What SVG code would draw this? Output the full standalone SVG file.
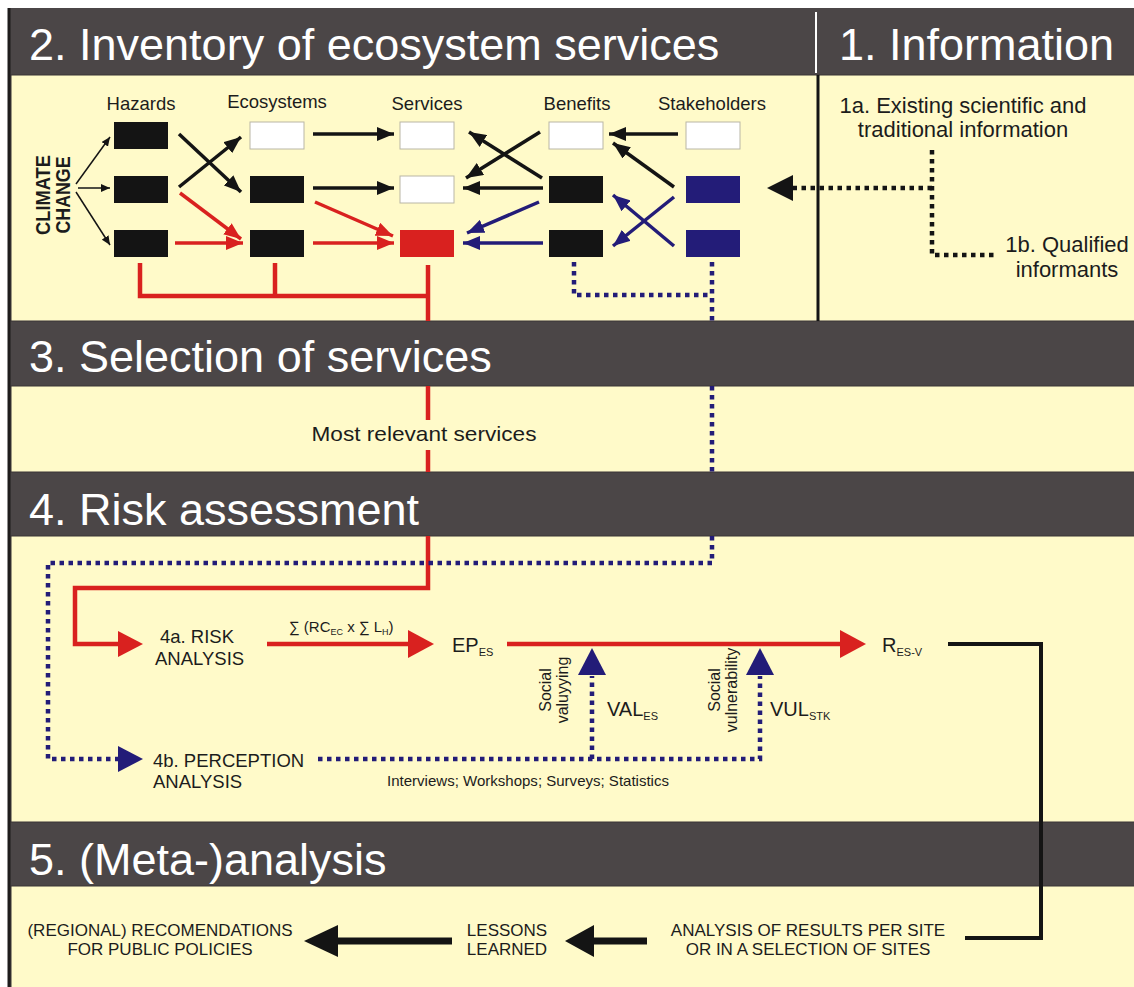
<svg xmlns="http://www.w3.org/2000/svg" width="1134" height="987" viewBox="0 0 1134 987">
<defs>
<style>
text{font-family:"Liberation Sans",Arial,sans-serif;fill:#1c1c1c}
.title{font-size:45px;fill:#ffffff}
.col{font-size:18.5px;text-anchor:middle}
.info{font-size:22px;text-anchor:middle}
.mid{font-size:18.5px}
.cc{font-size:20px;font-weight:bold;text-anchor:middle}
.rot{font-size:16px;text-anchor:middle}
.big{font-size:20px}
.sub{font-size:11px}
.s5{font-size:17px;text-anchor:middle}
.panel{fill:#fffac9;stroke:#3a3536;stroke-width:1}
.bk{fill:#141414}
.wh{fill:#ffffff;stroke:#b9b6a6;stroke-width:1}
.rd{fill:#d9211f}
.nv{fill:#231c78}
.lb{stroke:#141414;stroke-width:3.5;fill:none}
.lr{stroke:#d9211f;stroke-width:3.5;fill:none}
.ln{stroke:#231c78;stroke-width:3.5;fill:none}
.thin{stroke:#141414;stroke-width:1.5;fill:none}
.dn{stroke:#231c78;stroke-width:4.5;stroke-dasharray:4.5 4.5;fill:none}
.db{stroke:#141414;stroke-width:4.5;stroke-dasharray:4.5 4.5;fill:none}
.fr{stroke:#d9211f;stroke-width:4.5;fill:none}
.fk{stroke:#141414;stroke-width:4;fill:none}
.fk2{stroke:#141414;stroke-width:7;fill:none}
</style>
<marker id="mb" markerUnits="userSpaceOnUse" markerWidth="17" markerHeight="14" refX="17" refY="7" orient="auto"><path d="M0,0 L17,7 L0,14 z" fill="#141414"/></marker>
<marker id="mr" markerUnits="userSpaceOnUse" markerWidth="17" markerHeight="14" refX="17" refY="7" orient="auto"><path d="M0,0 L17,7 L0,14 z" fill="#d9211f"/></marker>
<marker id="mn" markerUnits="userSpaceOnUse" markerWidth="17" markerHeight="14" refX="17" refY="7" orient="auto"><path d="M0,0 L17,7 L0,14 z" fill="#231c78"/></marker>
<marker id="ms" markerUnits="userSpaceOnUse" markerWidth="9" markerHeight="8" refX="9" refY="4" orient="auto"><path d="M0,0 L9,4 L0,8 z" fill="#141414"/></marker>
</defs>

<!-- background frame -->
<rect x="0" y="0" width="1134" height="987" fill="#ffffff"/>
<rect x="8" y="8" width="1126" height="979" fill="#4b4647"/>
<rect class="panel" x="11" y="75" width="1124" height="246"/>
<rect class="panel" x="11" y="386" width="1124" height="86"/>
<rect class="panel" x="11" y="536" width="1124" height="286"/>
<rect class="panel" x="11" y="886" width="1124" height="102"/>
<rect x="7.5" y="8" width="3" height="979" fill="#1e1c1c"/>
<rect x="816.5" y="75" width="3" height="246" fill="#141414"/>
<rect x="815" y="12" width="2" height="61" fill="#ffffff"/>

<!-- headers -->
<g id="h2"><text class="title" x="29" y="60">2. Inventory of ecosystem services</text></g>
<g id="h1"><text class="title" x="839" y="60">1. Information</text></g>
<g id="h3"><text class="title" x="29" y="372">3. Selection of services</text></g>
<g id="h4"><text class="title" x="29" y="525">4. Risk assessment</text></g>
<g id="h5"><text class="title" x="29" y="875">5. (Meta-)analysis</text></g>

<!-- column labels -->
<g id="labels">
<text class="col" x="141" y="110">Hazards</text>
<text class="col" x="277" y="108">Ecosystems</text>
<text class="col" x="427" y="110">Services</text>
<text class="col" x="577" y="110">Benefits</text>
<text class="col" x="712" y="110">Stakeholders</text>
</g>

<g id="climate-change">
<text class="cc" transform="rotate(-90)" x="-195" y="50" textLength="80" lengthAdjust="spacingAndGlyphs">CLIMATE</text>
<text class="cc" transform="rotate(-90)" x="-195" y="70" textLength="77" lengthAdjust="spacingAndGlyphs">CHANGE</text>
</g>

<g id="hazards">
<rect class="bk" x="114" y="122" width="54" height="27"/>
<rect class="bk" x="114" y="176" width="54" height="27"/>
<rect class="bk" x="114" y="230" width="54" height="27"/>
</g>
<g id="ecosystems">
<rect class="wh" x="250" y="122" width="54" height="27"/>
<rect class="bk" x="250" y="176" width="54" height="27"/>
<rect class="bk" x="250" y="230" width="54" height="27"/>
</g>
<g id="services">
<rect class="wh" x="400" y="122" width="54" height="27"/>
<rect class="wh" x="400" y="176" width="54" height="27"/>
<rect class="rd" x="400" y="230" width="54" height="27"/>
</g>
<g id="benefits">
<rect class="wh" x="549" y="122" width="54" height="27"/>
<rect class="bk" x="549" y="176" width="54" height="27"/>
<rect class="bk" x="549" y="230" width="54" height="27"/>
</g>
<g id="stakeholders">
<rect class="wh" x="686" y="122" width="54" height="27"/>
<rect class="nv" x="686" y="176" width="54" height="27"/>
<rect class="nv" x="686" y="230" width="54" height="27"/>
</g>

<g id="info">
<text class="info" x="963" y="113">1a. Existing scientific and</text>
<text class="info" x="963" y="137">traditional information</text>
<text class="info" x="1067" y="252">1b. Qualified</text>
<text class="info" x="1067" y="277">informants</text>
</g>

<g id="selection-label"><text x="424" y="441" font-size="21" text-anchor="middle" textLength="225" lengthAdjust="spacingAndGlyphs">Most relevant services</text></g>

<g id="risk-analysis">
<text class="mid" x="160" y="643">4a. RISK</text>
<text class="mid" x="155" y="665">ANALYSIS</text>
</g>
<g id="perception-analysis">
<text class="mid" x="153" y="767">4b. PERCEPTION</text>
<text class="mid" x="153" y="788">ANALYSIS</text>
</g>
<g id="ep"><text class="big" x="452" y="652">EP<tspan class="sub" dy="4">ES</tspan></text></g>
<g id="r"><text class="big" x="882" y="652">R<tspan class="sub" dy="4">ES-V</tspan></text></g>
<g id="val"><text class="big" x="607" y="716">VAL<tspan class="sub" dy="4">ES</tspan></text></g>
<g id="vul"><text class="big" x="770" y="716">VUL<tspan class="sub" dy="4">STK</tspan></text></g>
<g id="social-labels">
<text class="rot" transform="rotate(-90)" x="-690" y="551">Social</text>
<text class="rot" transform="rotate(-90)" x="-690" y="568">valuyying</text>
<text class="rot" transform="rotate(-90)" x="-690" y="720">Social</text>
<text class="rot" transform="rotate(-90)" x="-690" y="737">vulnerability</text>
</g>
<g id="methods"><text x="387" y="786" font-size="14.5" textLength="282" lengthAdjust="spacingAndGlyphs">Interviews; Workshops; Surveys; Statistics</text></g>
<g id="formula"><text x="289" y="632" font-size="15">∑ (RC<tspan font-size="9" dy="3">EC</tspan><tspan dy="-3"> x ∑ L</tspan><tspan font-size="9" dy="3">H</tspan><tspan dy="-3">)</tspan></text></g>

<g id="recommendations">
<text class="s5" x="160" y="936">(REGIONAL) RECOMENDATIONS</text>
<text class="s5" x="160" y="955">FOR PUBLIC POLICIES</text>
</g>
<g id="lessons">
<text class="s5" x="507" y="936">LESSONS</text>
<text class="s5" x="507" y="955">LEARNED</text>
</g>
<g id="results">
<text class="s5" x="808" y="936">ANALYSIS OF RESULTS PER SITE</text>
<text class="s5" x="808" y="955">OR IN A SELECTION OF SITES</text>
</g>

<!-- connectors -->
<g id="connectors">
<!-- climate change -->
<path class="thin" d="M76,184 L110,137" marker-end="url(#ms)"/>
<path class="thin" d="M78,188 L110,188" marker-end="url(#ms)"/>
<path class="thin" d="M76,192 L110,245" marker-end="url(#ms)"/>
<!-- hazards to ecosystems -->
<path class="lb" d="M179,134 L241,192" marker-end="url(#mb)"/>
<path class="lb" d="M179,187 L241,137" marker-end="url(#mb)"/>
<path class="lr" d="M180,193 L241,239" marker-end="url(#mr)"/>
<path class="lr" d="M175,243 L243,243" marker-end="url(#mr)"/>
<!-- ecosystems to services -->
<path class="lb" d="M313,134 L394,134" marker-end="url(#mb)"/>
<path class="lb" d="M313,188 L394,188" marker-end="url(#mb)"/>
<path class="lr" d="M315,202 L393,236" marker-end="url(#mr)"/>
<path class="lr" d="M313,243 L394,243" marker-end="url(#mr)"/>
<!-- benefits to services -->
<path class="lb" d="M542,178 L469,132" marker-end="url(#mb)"/>
<path class="lb" d="M540,132 L466,178" marker-end="url(#mb)"/>
<path class="lb" d="M543,188 L463,188" marker-end="url(#mb)"/>
<path class="ln" d="M539,202 L467,233" marker-end="url(#mn)"/>
<path class="ln" d="M543,243 L463,243" marker-end="url(#mn)"/>
<!-- stakeholders to benefits -->
<path class="lb" d="M678,134 L609,134" marker-end="url(#mb)"/>
<path class="lb" d="M674,187 L613,143" marker-end="url(#mb)"/>
<path class="ln" d="M674,197 L613,246" marker-end="url(#mn)"/>
<path class="ln" d="M674,246 L613,195" marker-end="url(#mn)"/>
<!-- information -->
<path class="db" d="M932,150 V255 H998"/>
<path class="db" d="M932,188 H792"/>
<polygon points="767,188 793,175 793,201" fill="#141414"/>
<!-- red selection flow -->
<path class="fr" d="M140,263 V296 H428"/>
<path class="fr" d="M275,263 V296"/>
<path class="fr" d="M428,265 V321"/>
<path class="fr" d="M428,386 V420"/>
<path class="fr" d="M428,450 V472"/>
<path class="fr" d="M428,536 V588 H75 V644 H120"/>
<polygon points="143,644 118,631 118,657" fill="#d9211f"/>
<path class="fr" d="M267,644 H410"/>
<polygon points="434,644 408,630 408,658" fill="#d9211f"/>
<path class="fr" d="M507,644 H842"/>
<polygon points="866,644 840,630 840,658" fill="#d9211f"/>
<!-- navy dotted perception flow -->
<path class="dn" d="M574,262 V295 H712"/>
<path class="dn" d="M712,262 V321"/>
<path class="dn" d="M712,386 V472"/>
<path class="dn" d="M712,536 V563 H48 V759 H120"/>
<polygon points="143,759 118,746 118,772" fill="#231c78"/>
<path class="dn" d="M318,759 H760 V676"/>
<path class="dn" d="M592,759 V676"/>
<polygon points="592,648 578,675 606,675" fill="#231c78"/>
<polygon points="760,648 746,675 774,675" fill="#231c78"/>
<!-- meta-analysis -->
<path class="fk" d="M948,644 H1041 V938 H965"/>
<path class="fk2" d="M452,941 H336"/>
<polygon points="304,941 338,925 338,957" fill="#141414"/>
<path class="fk2" d="M647,941 H592"/>
<polygon points="565,941 594,925 594,957" fill="#141414"/>
</g>
</svg>
